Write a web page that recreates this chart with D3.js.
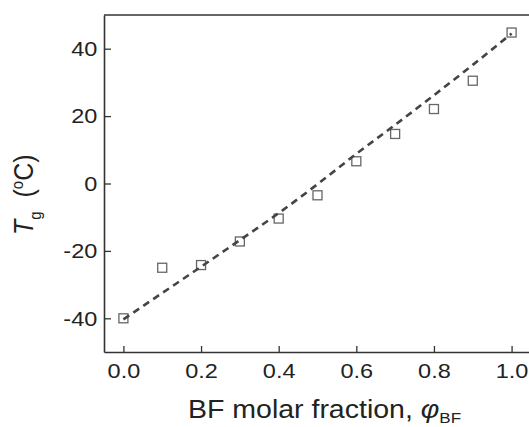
<!DOCTYPE html>
<html>
<head>
<meta charset="utf-8">
<script src="https://cdn.jsdelivr.net/npm/d3@7"></script>
<style>
  body { margin: 0; background: #fff; }
  text { font-family: "Liberation Sans", Arial, sans-serif; fill: #222; }
</style>
</head>
<body>
<div id="chart"></div>
<script>
(function tgPlot() {
  // measured Tg vs BF molar fraction
  var fraction = [0.0, 0.1, 0.2, 0.3, 0.4, 0.5, 0.6, 0.7, 0.8, 0.9, 1.0];
  var tgMeasured = [-40.0, -25.0, -24.2, -17.2, -10.4, -3.5, 6.6, 14.7, 22.1, 30.5, 44.8];

  // fitted curve
  var fitFraction = [0.0, 0.1, 0.2, 0.3, 0.4, 0.5, 0.6, 0.7, 0.8, 0.9, 1.0];
  var fitTg = [-40.3, -32.5, -24.7, -16.8, -8.8, -0.2, 8.8, 17.4, 26.2, 35.2, 44.5];

  var xTicks = [0.0, 0.2, 0.4, 0.6, 0.8, 1.0];
  var yTicks = [-40, -20, 0, 20, 40];

  var width = 529,
      height = 427,
      margin = { top: 15, left: 104, bottom: 75 };

  var x = d3.scaleLinear().domain([-0.05, 1.05]).range([margin.left, 531]);
  var y = d3.scaleLinear().domain([-50, 50]).range([height - margin.bottom, margin.top]);

  var svg = d3.select("#chart").append("svg")
      .attr("width", width)
      .attr("height", height);

  // markers first, the dashed line runs over them
  svg.selectAll(".pt")
      .data(fraction)
    .enter().append("rect")
      .attr("class", "pt")
      .attr("x", function(d) { return x(d) - 4.5; })
      .attr("y", function(d, i) { return y(tgMeasured[i]) - 4.5; })
      .attr("width", 9)
      .attr("height", 9)
      .style("fill", "none")
      .style("stroke", "#666")
      .style("stroke-width", 1.3);

  var line = d3.line()
      .x(function(d) { return x(d); })
      .y(function(d, i) { return y(fitTg[i]); })
      .curve(d3.curveMonotoneX);

  svg.append("path")
      .datum(fitFraction)
      .attr("d", line)
      .style("fill", "none")
      .style("stroke", "#444")
      .style("stroke-width", 2.6)
      .style("stroke-dasharray", "7,5");

  // axes with inward ticks
  var yMinor = d3.range(-45, 50, 5);
  var xMinor = d3.range(-0.05, 1.06, 0.05);

  var xAxis = svg.append("g")
      .attr("transform", "translate(0," + y(-50) + ")");
  xAxis.call(d3.axisBottom(x).tickValues(xMinor).tickSize(-3).tickFormat(""));
  xAxis.call(d3.axisBottom(x).tickValues(xTicks).tickSize(-6).tickSizeOuter(0)
      .tickFormat(d3.format(".1f")).tickPadding(11));

  var yAxis = svg.append("g")
      .attr("transform", "translate(" + x(-0.05) + ",0)");
  yAxis.call(d3.axisLeft(y).tickValues(yMinor).tickSize(-4).tickFormat(""));
  yAxis.call(d3.axisLeft(y).tickValues(yTicks).tickSize(-7).tickSizeOuter(0)
      .tickFormat(function(d) { return String(d); }).tickPadding(6));

  svg.selectAll(".domain").style("stroke", "#333").style("stroke-width", 1.6);
  svg.selectAll(".tick line").style("stroke", "#333").style("stroke-width", 1.3);
  svg.selectAll(".tick text").style("font-size", "21px").style("fill", "#222")
      .style("font-family", "'Liberation Sans', Arial, sans-serif")
      .attr("transform", "scale(1.12,1)");

  // top frame line
  svg.append("line")
      .attr("x1", x(-0.05)).attr("x2", width)
      .attr("y1", y(50)).attr("y2", y(50))
      .style("stroke", "#333").style("stroke-width", 1.6);

  // axis titles
  var xt = svg.append("text")
      .attr("transform", "translate(188,418) scale(1.14,1)")
      .style("font-size", "25px");
  xt.append("tspan").text("BF molar fraction, ");
  xt.append("tspan").style("font-style", "italic").text("\u03c6");
  xt.append("tspan").attr("dy", 5).style("font-size", "15px").text("BF");

  var yt = svg.append("text")
      .attr("transform", "translate(33,235) scale(1.14,1) rotate(-90)")
      .style("font-size", "25px")
      .attr("xml:space", "preserve");
  yt.append("tspan").style("font-style", "italic").text("T");
  yt.append("tspan").attr("dy", 7).style("font-size", "15px").text("g");
  yt.append("tspan").attr("dy", -7).text("\u00a0\u00a0(");
  yt.append("tspan").attr("dy", -9).style("font-size", "15px").text("o");
  yt.append("tspan").attr("dy", 9).text("C)");
})();
</script>
</body>
</html>
